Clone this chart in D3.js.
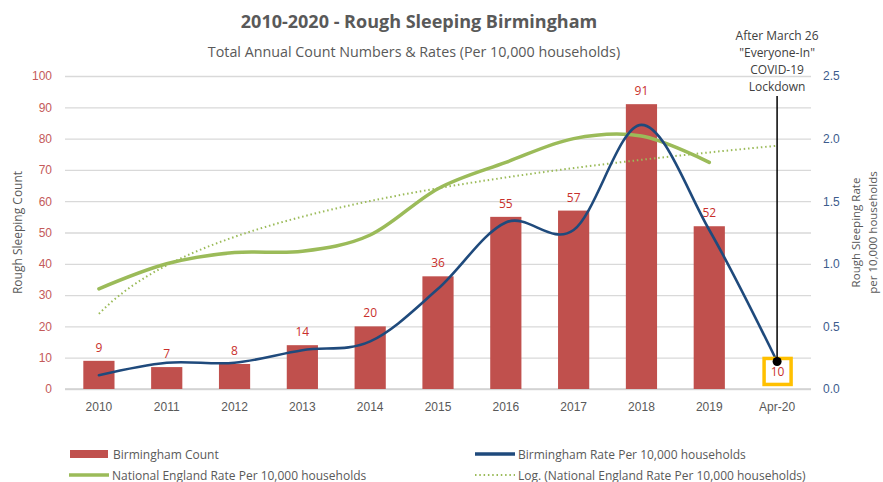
<!DOCTYPE html>
<html>
<head>
<meta charset="utf-8">
<script src="https://cdn.jsdelivr.net/npm/d3@7"></script>
<style>
  body { margin: 0; background: #fff; }
  svg { font-family: "Open Sans", sans-serif; }
  .axis path { display: none; }
  .axis line { stroke: #d9d9d9; }
</style>
</head>
<body>
<svg width="883" height="482"></svg>
<script>
// categories and series
var years = ['2010', '2011', '2012', '2013', '2014', '2015', '2016', '2017', '2018', '2019', 'Apr-20'];
var bhamCount = [9, 7, 8, 14, 20, 36, 55, 57, 91, 52, 10];
var bhamRate = [0.11, 0.21, 0.21, 0.31, 0.38, 0.8, 1.33, 1.27, 2.11, 1.27, 0.22];
var englandRate = [0.8, 1.0, 1.09, 1.1, 1.23, 1.6, 1.81, 2.0, 2.02, 1.81];
var countTicks = [0, 10, 20, 30, 40, 50, 60, 70, 80, 90, 100];
var rateTicks = [0, 0.5, 1.0, 1.5, 2.0, 2.5];
var noteLines = ['After March 26', '"Everyone-In"', 'COVID-19', 'Lockdown'];

var svg = d3.select('svg');
// note: "top" is taken by window.top, so plot edges get their own names
var plotL = 65, plotR = 811, plotT = 76, plotB = 389;

var x = d3.scaleBand().domain(years).range([plotL, plotR]).padding(0);
var cx = d => x(d) + x.bandwidth() / 2;
var barW = x.bandwidth() * 0.46;

var yCount = d3.scaleLinear().domain([0, 100]).range([plotB, plotT]);
var yRate = d3.scaleLinear().domain([0, 2.5]).range([plotB, plotT]);

// gridlines + left ticks
var gl = svg.append('g').attr('class', 'axis')
  .attr('transform', 'translate(' + plotL + ',0)')
  .call(d3.axisLeft(yCount).tickValues(countTicks).tickSize(-(plotR - plotL)).tickPadding(13));
gl.selectAll('line').attr('stroke-width', 1.3);
gl.selectAll('text').attr('fill', '#c45a5a').attr('font-size', 12);

var gr = svg.append('g').attr('class', 'axis')
  .attr('transform', 'translate(' + plotR + ',0)')
  .call(d3.axisRight(yRate).tickValues(rateTicks).tickSize(0).tickPadding(12).tickFormat(d3.format('.1f')));
gr.selectAll('text').attr('fill', '#3d5b8c').attr('font-size', 12);

var gb = svg.append('g').attr('class', 'axis')
  .attr('transform', 'translate(0,' + plotB + ')')
  .call(d3.axisBottom(x).tickSize(0).tickPadding(13));
gb.selectAll('text').attr('fill', '#595959').attr('font-size', 12);

// baseline
svg.append('line').attr('x1', plotL).attr('x2', plotR)
  .attr('y1', plotB).attr('y2', plotB).attr('stroke', '#d0d0d0').attr('stroke-width', 1.5);

// titles
svg.append('text').attr('x', 419).attr('y', 28).attr('text-anchor', 'middle')
  .attr('font-size', 18).attr('font-weight', 'bold').attr('fill', '#595959')
  .text('2010-2020 - Rough Sleeping Birmingham');
svg.append('text').attr('x', 414).attr('y', 57).attr('text-anchor', 'middle')
  .attr('font-size', 14.3).attr('fill', '#595959')
  .text('Total Annual Count Numbers & Rates (Per 10,000 households)');

svg.append('text').attr('transform', 'translate(22,' + ((plotT + plotB) / 2) + ') rotate(-90)')
  .attr('text-anchor', 'middle').attr('font-size', 12).attr('fill', '#595959')
  .text('Rough Sleeping Count');
svg.append('text').attr('transform', 'translate(860,' + ((plotT + plotB) / 2) + ') rotate(-90)')
  .attr('text-anchor', 'middle').attr('font-size', 11.5).attr('fill', '#595959')
  .selectAll('tspan').data(['Rough Sleeping Rate', 'per 10,000 households']).enter()
  .append('tspan').attr('x', 0).attr('dy', (d, i) => i ? 17 : 0).text(d => d);

// bars (the Apr-20 one sits under the boxed label)
var rows = years.map((d, i) => ({ year: d, count: bhamCount[i], rate: bhamRate[i], i: i }));
var barRows = rows.slice(0, rows.length - 1);

svg.append('g').selectAll('rect').data(barRows).enter().append('rect')
  .attr('x', d => cx(d.year) - barW / 2)
  .attr('y', d => yCount(d.count))
  .attr('width', barW)
  .attr('height', d => plotB - yCount(d.count))
  .attr('fill', '#c0504d');

svg.append('g').selectAll('text').data(barRows).enter().append('text')
  .attr('x', d => cx(d.year))
  .attr('y', d => yCount(d.count) - 9)
  .attr('text-anchor', 'middle').attr('font-size', 12).attr('fill', '#c9302c')
  .text(d => d.count);

// log trendline fitted to the England series (as Excel does), extended one period
var lx = englandRate.map((d, i) => Math.log(i + 1));
var mx = d3.mean(lx), my = d3.mean(englandRate);
var b = d3.sum(lx, (v, i) => (v - mx) * (englandRate[i] - my)) / d3.sum(lx, v => (v - mx) * (v - mx));
var a = my - b * mx;
var step = x.step();
var trend = d3.range(1, years.length + 0.001, 0.1).map(t => [cx(years[0]) + (t - 1) * step, yRate(a + b * Math.log(t))]);

svg.append('path').datum(trend)
  .attr('d', d3.line())
  .attr('fill', 'none').attr('stroke', '#9bbb59').attr('stroke-width', 2)
  .attr('stroke-dasharray', '1.5,2.8');

var smooth = d3.line().curve(d3.curveCatmullRom.alpha(0));

svg.append('path').datum(englandRate.map((v, i) => [cx(years[i]), yRate(v)]))
  .attr('d', smooth)
  .attr('fill', 'none').attr('stroke', '#9bbb59').attr('stroke-width', 3.5).attr('stroke-linecap', 'round');

svg.append('path').datum(rows.map(d => [cx(d.year), yRate(d.rate)]))
  .attr('d', smooth)
  .attr('fill', 'none').attr('stroke', '#1f4a7c').attr('stroke-width', 2.6).attr('stroke-linecap', 'round');

// Apr-20 annotation
var last = rows[rows.length - 1];
var lx0 = cx(last.year);
svg.append('rect')
  .attr('x', lx0 - 13).attr('y', yRate(last.rate) - 3)
  .attr('width', 27).attr('height', 26)
  .attr('fill', '#fff').attr('stroke', '#ffc000').attr('stroke-width', 3.5);
svg.append('text').attr('x', lx0 + 0.5).attr('y', yRate(last.rate) + 15)
  .attr('text-anchor', 'middle').attr('font-size', 12).attr('fill', '#c9302c')
  .text(last.count);

svg.append('line').attr('x1', lx0).attr('x2', lx0)
  .attr('y1', 96).attr('y2', yRate(last.rate))
  .attr('stroke', '#000').attr('stroke-width', 1.5);
svg.append('circle').attr('cx', lx0).attr('cy', yRate(last.rate)).attr('r', 4.5).attr('fill', '#000');

svg.append('g').selectAll('text').data(noteLines).enter().append('text')
  .attr('x', lx0).attr('y', (d, i) => 40 + i * 17)
  .attr('text-anchor', 'middle').attr('font-size', 12).attr('fill', '#404040')
  .text(d => d);

// legend
var legend = [
  { label: 'Birmingham Count', x: 70, y: 454, kind: 'bar' },
  { label: 'Birmingham Rate Per 10,000 households', x: 475, y: 454, kind: 'blue' },
  { label: 'National England Rate Per 10,000 households', x: 69, y: 475, kind: 'green' },
  { label: 'Log. (National England Rate Per 10,000 households)', x: 475, y: 475, kind: 'dots' }
];
var lg = svg.append('g').selectAll('g').data(legend).enter().append('g')
  .attr('transform', d => 'translate(' + d.x + ',' + d.y + ')');
lg.filter(d => d.kind === 'bar').append('rect')
  .attr('x', 0).attr('y', -4).attr('width', 38).attr('height', 8).attr('fill', '#c0504d');
lg.filter(d => d.kind !== 'bar').append('line')
  .attr('x1', 0).attr('x2', 40).attr('y1', 0).attr('y2', 0)
  .attr('stroke', d => d.kind === 'blue' ? '#1f4a7c' : '#9bbb59')
  .attr('stroke-width', d => d.kind === 'dots' ? 2 : 3.5)
  .attr('stroke-dasharray', d => d.kind === 'dots' ? '1.5,2.8' : null);
lg.append('text').attr('x', 43).attr('y', 4.5)
  .attr('font-size', 12).attr('fill', '#595959')
  .text(d => d.label);
</script>
</body>
</html>
